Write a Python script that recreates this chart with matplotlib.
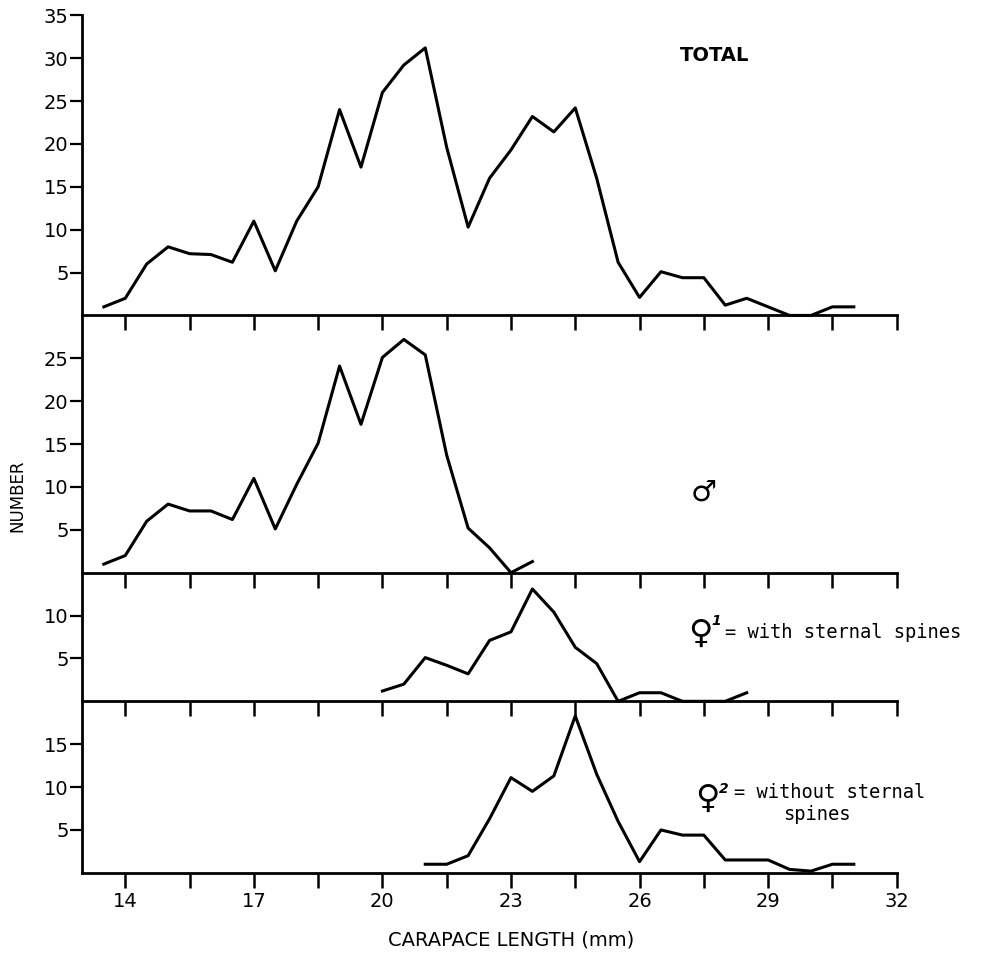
import matplotlib.pyplot as plt
from matplotlib.ticker import FixedLocator

# carapace length classes (mm) and counts per panel
lengths_total = [13.5, 14.0, 14.5, 15.0, 15.5, 16.0, 16.5, 17.0, 17.5, 18.0, 18.5, 19.0,
                 19.5, 20.0, 20.5, 21.0, 21.5, 22.0, 22.5, 23.0, 23.5, 24.0, 24.5, 25.0,
                 25.5, 26.0, 26.5, 27.0, 27.5, 28.0, 28.5, 29.0, 29.5, 30.0, 30.5, 31.0]
total = [1, 2, 6, 8, 7.2, 7.1, 6.2, 11, 5.2, 11, 15, 24,
         17.3, 26, 29.2, 31.2, 19.6, 10.3, 16, 19.3, 23.2, 21.4, 24.2, 16,
         6.2, 2.1, 5.1, 4.4, 4.4, 1.2, 2, 1, 0, 0, 1, 1]

lengths_male = [13.5, 14.0, 14.5, 15.0, 15.5, 16.0, 16.5, 17.0, 17.5, 18.0, 18.5,
                19.0, 19.5, 20.0, 20.5, 21.0, 21.5, 22.0, 22.5, 23.0, 23.5]
male = [1, 2, 6, 8, 7.2, 7.2, 6.2, 11, 5.1, 10.3, 15.1,
        24.1, 17.3, 25.1, 27.2, 25.4, 13.7, 5.2, 2.9, 0, 1.3]

lengths_f1 = [20.0, 20.5, 21.0, 21.5, 22.0, 22.5, 23.0, 23.5, 24.0,
              24.5, 25.0, 25.5, 26.0, 26.5, 27.0, 27.5, 28.0, 28.5]
female1 = [1.2, 2, 5.1, 4.2, 3.2, 7.1, 8.1, 13.1, 10.4,
           6.3, 4.4, 0, 1, 1, 0, 0, 0, 1]

lengths_f2 = [21.0, 21.5, 22.0, 22.5, 23.0, 23.5, 24.0, 24.5, 25.0, 25.5, 26.0,
              26.5, 27.0, 27.5, 28.0, 28.5, 29.0, 29.5, 30.0, 30.5, 31.0]
female2 = [1, 1, 2, 6.3, 11.1, 9.5, 11.3, 18.3, 11.5, 6, 1.3,
           5, 4.4, 4.4, 1.5, 1.5, 1.5, 0.4, 0.2, 1, 1]

major_ticks = [14, 17, 20, 23, 26, 29, 32]
minor_ticks = [15.5, 18.5, 21.5, 24.5, 27.5, 30.5]

panels = [(lengths_total, total, 35, [5, 10, 15, 20, 25, 30, 35]),
          (lengths_male, male, 30, [5, 10, 15, 20, 25]),
          (lengths_f1, female1, 15, [5, 10]),
          (lengths_f2, female2, 20, [5, 10, 15])]

mono = ["DejaVu Sans Mono", "DejaVu Sans"]

fig = plt.figure(figsize=(9.93, 9.56), dpi=100)
gs = fig.add_gridspec(4, 1, height_ratios=[35, 30, 15, 20], hspace=0,
                      left=0.083, right=0.903, top=0.984, bottom=0.087)
axes = []
for i, (x, y, ytop, yt) in enumerate(panels):
    ax = fig.add_subplot(gs[i])
    ax.set_facecolor("none")
    ax.plot(x, y, color="black", lw=2.2, clip_on=False)
    ax.set_xlim(13, 32)
    ax.set_ylim(0, ytop)
    ax.set_yticks(yt)
    ax.xaxis.set_major_locator(FixedLocator(major_ticks))
    ax.xaxis.set_minor_locator(FixedLocator(minor_ticks))
    for s in ["top", "right"]:
        ax.spines[s].set_visible(False)
    for s in ["left", "bottom"]:
        ax.spines[s].set_linewidth(2)
    ax.tick_params(axis="x", which="both", direction="out", length=11, width=1.8,
                   labelbottom=(i == 3), labelsize=14, pad=3)
    ax.tick_params(axis="y", direction="out", length=9, width=1.6, labelsize=14, pad=1)
    axes.append(ax)

axes[0].text(27.75, 30.3, "TOTAL", ha="center", va="center", fontsize=14,
             fontweight="bold")
axes[1].text(27.5, 9.3, "\u2642", ha="center", va="center", fontsize=21)

axes[2].text(27.41, 7.9, "\u2640", ha="center", va="center", fontsize=24, fontweight="bold")
axes[2].text(27.78, 9.4, "1", ha="center", va="center", fontsize=10,
             fontweight="bold", style="italic")
axes[2].text(28.0, 8.0, "= with sternal spines", ha="left", va="center",
             fontsize=13.5, family=mono)

axes[3].text(27.58, 8.7, "\u2640", ha="center", va="center", fontsize=24, fontweight="bold")
axes[3].text(27.97, 9.8, "2", ha="center", va="center", fontsize=10,
             fontweight="bold", style="italic")
axes[3].text(28.2, 9.4, "= without sternal", ha="left", va="center",
             fontsize=13.5, family=mono)
axes[3].text(30.14, 6.8, "spines", ha="center", va="center",
             fontsize=13.5, family=mono)

fig.text(0.018, 0.481, "NUMBER", rotation=90, ha="center", va="center", fontsize=12)
fig.text(0.515, 0.017, "CARAPACE LENGTH (mm)", ha="center", va="center", fontsize=14)

fig.savefig("out.png", dpi=100)
